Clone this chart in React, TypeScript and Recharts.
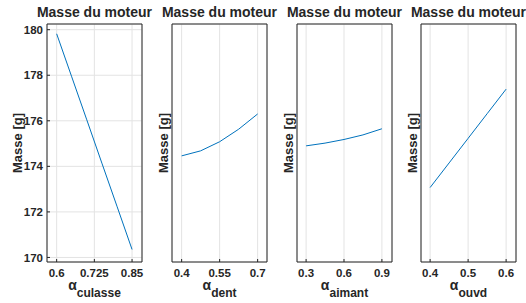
import React from 'react'
import { LineChart, Line, XAxis, YAxis, CartesianGrid } from 'recharts'

const culasseX = [0.6, 0.65, 0.7, 0.75, 0.8, 0.85]
const culasseMasse = [179.82, 177.93, 176.04, 174.14, 172.25, 170.35]

const dentX = [0.4, 0.475, 0.55, 0.625, 0.7]
const dentMasse = [174.46, 174.68, 175.08, 175.63, 176.3]

const aimantX = [0.3, 0.45, 0.6, 0.75, 0.9]
const aimantMasse = [174.9, 175.02, 175.18, 175.38, 175.65]

const ouvdX = [0.4, 0.45, 0.5, 0.55, 0.6]
const ouvdMasse = [173.07, 174.15, 175.23, 176.31, 177.39]

const masseTicks = [170, 172, 174, 176, 178, 180]
const culasseTicks = [0.6, 0.725, 0.85]
const dentTicks = [0.4, 0.55, 0.7]
const aimantTicks = [0.3, 0.6, 0.9]
const ouvdTicks = [0.4, 0.5, 0.6]

const title = 'Masse du moteur'
const yLabel = 'Masse [g]'

const FONT = '"Liberation Sans", Arial, Helvetica, sans-serif'
const INK = '#262626'
const BLUE = '#0072bd'
const GRID = '#e3e3e3'

const TOP = 24
const BOTTOM = 262
const PW = 95
const H = 303
// axes need a non-zero size to be drawn, so 1px is taken off the margins
const AX = 1

interface PanelProps {
  xs: number[]
  ys: number[]
  ticks: number[]
  domain: [number, number]
  left: number
  yLabels?: boolean
}

const Panel: React.FC<PanelProps> = ({ xs, ys, ticks, domain, left, yLabels }) => {
  const data = xs.map((x, i) => ({ x, masse: ys[i] }))
  const ml = yLabels ? left : 10
  const mr = 10
  const tickStyle = { fill: INK, fontSize: 11.5, fontWeight: 'bold' as const, fontFamily: FONT }
  return (
    <div style={{ position: 'absolute', left: left - ml, top: 0 }}>
      <LineChart
        width={ml + PW + mr}
        height={H}
        data={data}
        margin={{ top: TOP - AX, left: ml - AX, right: mr - AX, bottom: H - BOTTOM - AX }}
        style={{ fontFamily: FONT }}
      >
        <CartesianGrid stroke={GRID} strokeWidth={1} />
        <XAxis
          dataKey="x"
          type="number"
          domain={domain}
          allowDataOverflow
          ticks={ticks}
          height={AX}
          tickSize={-3}
          tickMargin={10}
          tick={tickStyle}
          stroke={INK}
          tickLine={{ stroke: INK }}
          axisLine={{ stroke: INK }}
        />
        <XAxis
          xAxisId="top"
          orientation="top"
          dataKey="x"
          type="number"
          domain={domain}
          allowDataOverflow
          ticks={ticks}
          height={AX}
          tickSize={-3}
          tick={false}
          stroke={INK}
          axisLine={{ stroke: INK }}
        />
        <YAxis
          type="number"
          domain={[169.8, 180.25]}
          allowDataOverflow
          ticks={masseTicks}
          width={AX}
          tickSize={-3}
          tickMargin={7}
          tick={yLabels ? tickStyle : false}
          stroke={INK}
          axisLine={{ stroke: INK }}
        />
        <YAxis
          yAxisId="right"
          orientation="right"
          type="number"
          domain={[169.8, 180.25]}
          allowDataOverflow
          ticks={masseTicks}
          width={AX}
          tickSize={-3}
          tick={false}
          stroke={INK}
          axisLine={{ stroke: INK }}
        />
        <Line
          type="linear"
          dataKey="masse"
          stroke={BLUE}
          strokeWidth={1}
          dot={false}
          isAnimationActive={false}
        />
      </LineChart>
    </div>
  )
}

const panels = [
  { xs: culasseX, ys: culasseMasse, ticks: culasseTicks, domain: [0.568, 0.883] as [number, number], left: 47, sub: 'culasse' },
  { xs: dentX, ys: dentMasse, ticks: dentTicks, domain: [0.362, 0.737] as [number, number], left: 172, sub: 'dent' },
  { xs: aimantX, ys: aimantMasse, ticks: aimantTicks, domain: [0.228, 0.98] as [number, number], left: 297, sub: 'aimant' },
  { xs: ouvdX, ys: ouvdMasse, ticks: ouvdTicks, domain: [0.376, 0.626] as [number, number], left: 421, sub: 'ouvd' },
]

export default function App() {
  return (
    <div style={{ position: 'absolute', left: 0, top: 0, width: 526, height: H, background: '#fff' }}>
      {panels.map((p, i) => (
        <Panel key={p.sub} xs={p.xs} ys={p.ys} ticks={p.ticks} domain={p.domain} left={p.left} yLabels={i === 0} />
      ))}
      <svg width={526} height={H} style={{ position: 'absolute', left: 0, top: 0, pointerEvents: 'none' }}>
        {panels.map((p, i) => {
          const cx = p.left + PW / 2
          const lx = i === 0 ? 22 : p.left - 4.5
          return (
            <g key={p.sub} fill={INK} fontFamily={FONT} fontWeight="bold">
              <text x={cx} y={17.3} textAnchor="middle" fontSize={14}>{title}</text>
              <text x={lx} y={143} textAnchor="middle" fontSize={13} transform={`rotate(-90 ${lx} 143)`}>{yLabel}</text>
              <text x={cx} y={290} textAnchor="middle">
                <tspan fontSize={14}>α</tspan>
                <tspan fontSize={12} dy={7}>{p.sub}</tspan>
              </text>
            </g>
          )
        })}
      </svg>
    </div>
  )
}
